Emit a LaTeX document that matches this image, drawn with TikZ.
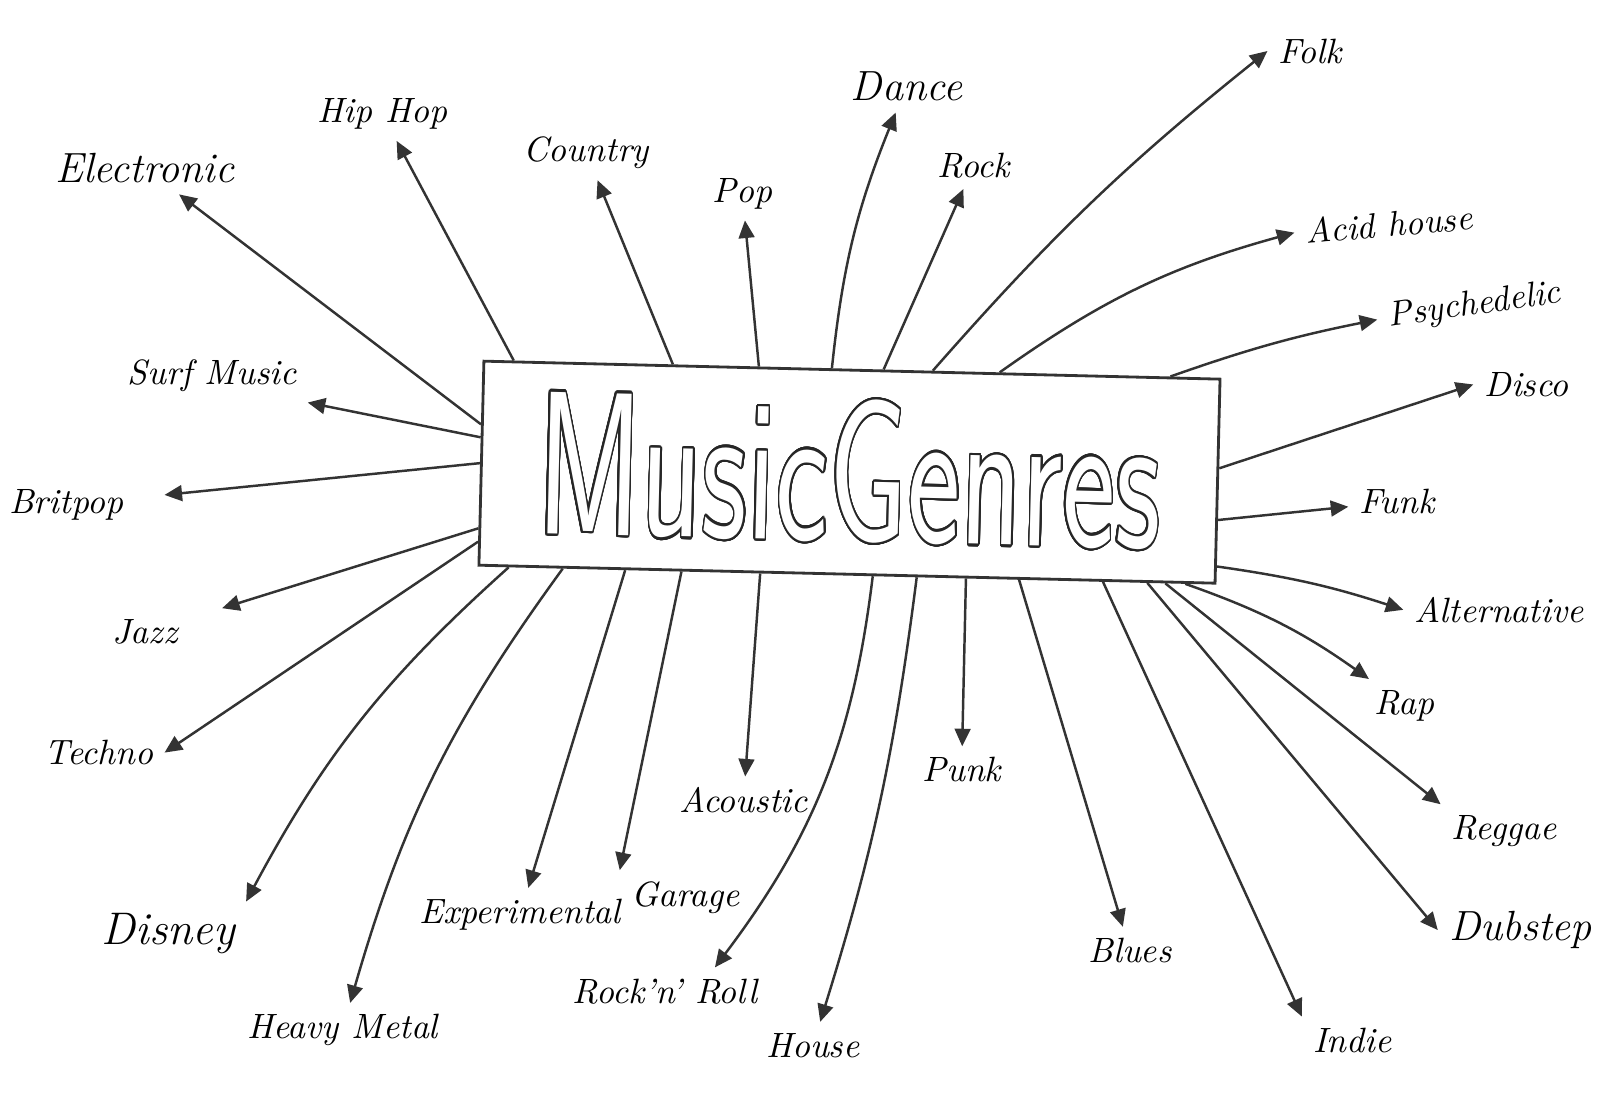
\documentclass[tikz,border=0pt]{standalone}
\usepackage{contour}
\usetikzlibrary{arrows.meta}

\contourlength{0.7pt}
\contournumber{32}

\tikzset{
  genre/.style={font=\fontsize{10}{12}\selectfont\itshape, inner sep=3pt},
  link/.style={draw=black!80, line width=0.7pt, -{Triangle[length=5pt,width=4.5pt]}},
}

\begin{document}
\begin{tikzpicture}[x=0.0102cm, y=-0.0102cm]
  \useasboundingbox (0,0) rectangle (1568,1080);

  % the box in the middle
  \node [draw=black!80, line width=0.8pt, rotate=-1.4,
         minimum width=7.36cm, minimum height=2.04cm] (genres) at (833,463)
        {\fontsize{58}{58}\sffamily\scalebox{0.62}[1]{%
          \contour{black!85}{\textcolor{white}{MusicGenres}}}};

  % genres round it
  \node [genre, font=\fontsize{12}{14}\selectfont\itshape] (elec) at (142,165) {Electronic};
  \node [genre] (hiphop)    at (375,112)  {Hip Hop};
  \node [genre] (country)   at (575,150)  {Country};
  \node [genre] (pop)       at (728,190)  {Pop};
  \node [genre, font=\fontsize{12}{14}\selectfont\itshape] (dance) at (889,85) {Dance};
  \node [genre] (rock)      at (955,162)  {Rock};
  \node [genre] (folk)      at (1285,50)  {Folk};
  \node [genre, rotate=5] (acid) at (1362,220) {Acid house};
  \node [genre, rotate=8] (psych) at (1446,300) {Psychedelic};
  \node [genre] (disco)     at (1497,377) {Disco};
  \node [genre] (funk)      at (1370,492) {Funk};
  \node [genre] (alt)       at (1470,598) {Alternative};
  \node [genre] (rap)       at (1377,692) {Rap};
  \node [genre] (reggae)    at (1475,815) {Reggae};
  \node [genre, font=\fontsize{12}{14}\selectfont\itshape] (dubstep) at (1491,912) {Dubstep};
  \node [genre] (indie)     at (1326,1020) {Indie};
  \node [genre] (blues)     at (1108,932) {Blues};
  \node [genre] (punk)      at (943,755)  {Punk};
  \node [genre] (house)     at (797,1025) {House};
  \node [genre] (rocknroll) at (652,972)  {Rock'n' Roll};
  \node [genre] (acoustic)  at (729,785)  {Acoustic};
  \node [genre] (garage)    at (672,880)  {Garage};
  \node [genre] (exper)     at (510,897)  {Experimental};
  \node [genre] (hmetal)    at (336,1010) {Heavy Metal};
  \node [genre, font=\fontsize{13}{15}\selectfont\itshape] (disney) at (165,915) {Disney};
  \node [genre] (techno)    at (97,738)   {Techno};
  \node [genre] (jazz)      at (142,620)  {Jazz};
  \node [genre] (britpop)   at (65,495)   {Britpop};
  \node [genre] (surf)      at (208,368)  {Surf Music};

  % arrows out of the box
  \draw [link] (genres.174) -- (elec);
  \draw [link] (genres.163) -- (hiphop);
  \draw [link] (genres.150) -- (country);
  \draw [link] (genres.132) -- (pop);
  \draw [link] (genres.101) to [bend left=8] (dance);
  \draw [link] (genres.73)  -- (rock);
  \draw [link] (genres.52)  to [bend left=5] (folk.west);
  \draw [link] (genres.35)  to [bend left=10] (acid.west);
  \draw [link] (genres.18)  to [bend left=4] (psych.west);
  \draw [link] (genres.2)   -- (disco.west);
  \draw [link] (genres.-6)  -- (funk);
  \draw [link] (genres.-13) to [bend left=5] (alt.west);
  \draw [link] (genres.-17) to [bend left=8] (rap);
  \draw [link] (genres.-18) -- (reggae.north west);
  \draw [link] (genres.-19) -- (dubstep.west);
  \draw [link] (genres.-22) -- (indie.north west);
  \draw [link] (genres.-31) -- (blues);
  \draw [link] (genres.-41) -- (punk);
  \draw [link] (genres.-56) to [bend left=5] (house);
  \draw [link] (genres.-76) to [bend left=15] ([xshift=0.5cm]rocknroll.north);
  \draw [link] (genres.230) -- (acoustic);
  \draw [link] (genres.212) -- (garage.north west);
  \draw [link] (genres.205) -- (exper);
  \draw [link] (genres.200) to [bend right=10] (hmetal);
  \draw [link] (genres.197) to [bend right=10] (disney.north east);
  \draw [link] (genres.192) -- (techno.east);
  \draw [link, shorten >=3.5mm] (genres.190) -- (jazz);
  \draw [link, shorten >=3mm] (genres.180) -- (britpop);
  \draw [link] (genres.176) -- (surf.south east);
\end{tikzpicture}
\end{document}
